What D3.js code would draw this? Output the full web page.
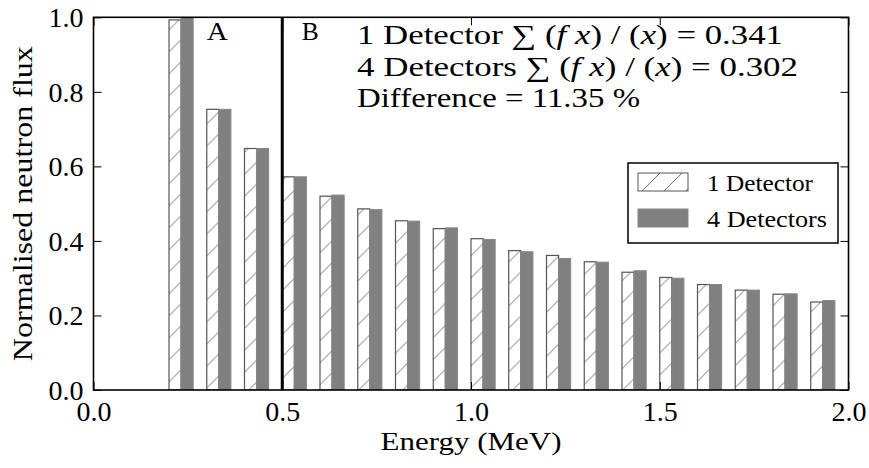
<!DOCTYPE html>
<html>
<head>
<meta charset="utf-8">
<script src="https://cdn.jsdelivr.net/npm/d3@7"></script>
<style>
  body { margin: 0; background: #fff; }
</style>
</head>
<body>
<svg id="chart"></svg>
<script>
// bin start energies (MeV)
const energies = [0.2, 0.3, 0.4, 0.5, 0.6, 0.7, 0.8, 0.9, 1.0, 1.1, 1.2, 1.3, 1.4, 1.5, 1.6, 1.7, 1.8, 1.9];
const oneDetector = [0.993, 0.753, 0.648, 0.572, 0.520, 0.486, 0.454, 0.433, 0.406, 0.374, 0.361, 0.344, 0.316, 0.302, 0.283, 0.268, 0.257, 0.236];
const fourDetectors = [1.0, 0.753, 0.648, 0.572, 0.523, 0.484, 0.453, 0.435, 0.404, 0.371, 0.353, 0.343, 0.320, 0.300, 0.283, 0.268, 0.258, 0.240];
const xTicks = [0.0, 0.5, 1.0, 1.5, 2.0];
const yTicks = [0.0, 0.2, 0.4, 0.6, 0.8, 1.0];
const seriesNames = ['1 Detector', '4 Detectors'];
const sumValues = ['0.341', '0.302'];
const difference = '11.35';
const barWidth = 0.032;
const splitAt = 0.5;

const width = 869, height = 468;
const margin = {top: 17.3, right: 20.5, bottom: 78, left: 93.5};
const w = width - margin.left - margin.right;
const h = height - margin.top - margin.bottom;
const serif = 'Liberation Serif';

const svg = d3.select('#chart').attr('width', width).attr('height', height)
    .attr('font-family', serif);

const defs = svg.append('defs');
defs.append('pattern')
    .attr('id', 'hatch')
    .attr('patternUnits', 'userSpaceOnUse')
    .attr('width', 22).attr('height', 22)
  .append('path')
    .attr('d', 'M-2,24 L24,-2 M-2,2 L2,-2 M20,24 L24,20')
    .attr('stroke', '#707070')
    .attr('stroke-width', 1);
defs.append('clipPath').attr('id', 'plotclip')
  .append('rect').attr('width', w).attr('height', h);

const chart = svg.append('g').attr('transform', `translate(${margin.left},${margin.top})`);

const x = d3.scaleLinear().domain([0, 2]).range([0, w]);
const y = d3.scaleLinear().domain([0, 1]).range([h, 0]);

const bars = chart.append('g').attr('clip-path', 'url(#plotclip)');

// 1 detector (hatched)
bars.selectAll('rect.one').data(energies).join('rect')
    .attr('class', 'one')
    .attr('x', d => x(d))
    .attr('y', (d, i) => y(oneDetector[i]))
    .attr('width', x(barWidth) - x(0))
    .attr('height', (d, i) => h - y(oneDetector[i]))
    .attr('fill', 'url(#hatch)')
    .attr('stroke', '#555')
    .attr('stroke-width', 1.2);

// 4 detectors (solid grey)
bars.selectAll('rect.four').data(energies).join('rect')
    .attr('class', 'four')
    .attr('x', d => x(d + barWidth))
    .attr('y', (d, i) => y(fourDetectors[i]))
    .attr('width', x(barWidth) - x(0))
    .attr('height', (d, i) => h - y(fourDetectors[i]))
    .attr('fill', '#808080')
    .attr('stroke', '#868686')
    .attr('stroke-width', 1);

// A / B split line
chart.append('line')
    .attr('x1', x(splitAt)).attr('x2', x(splitAt))
    .attr('y1', 0).attr('y2', h)
    .attr('stroke', '#000').attr('stroke-width', 3);

chart.append('text').attr('x', x(0.328)).attr('y', 23).attr('text-anchor', 'middle')
    .attr('font-family', serif).attr('font-size', 25)
    .attr('textLength', 21).attr('lengthAdjust', 'spacingAndGlyphs').text('A');
chart.append('text').attr('x', x(0.574)).attr('y', 23).attr('text-anchor', 'middle')
    .attr('font-family', serif).attr('font-size', 25)
    .attr('textLength', 17).attr('lengthAdjust', 'spacingAndGlyphs').text('B');

// axes with inward ticks on all sides
const fmt = d3.format('.1f');
const xAxisB = d3.axisBottom(x).tickValues(xTicks).tickFormat(fmt).tickSizeInner(-8).tickSizeOuter(0).tickPadding(12);
const xAxisT = d3.axisTop(x).tickValues(xTicks).tickFormat('').tickSizeInner(-8).tickSizeOuter(0);
const yAxisL = d3.axisLeft(y).tickValues(yTicks).tickFormat(fmt).tickSizeInner(-8).tickSizeOuter(0).tickPadding(10);
const yAxisR = d3.axisRight(y).tickValues(yTicks).tickFormat('').tickSizeInner(-8).tickSizeOuter(0);

const gxB = chart.append('g').attr('transform', `translate(0,${h})`).call(xAxisB);
const gxT = chart.append('g').call(xAxisT);
const gyL = chart.append('g').call(yAxisL);
const gyR = chart.append('g').attr('transform', `translate(${w},0)`).call(yAxisR);

[gxB, gxT, gyL, gyR].forEach(g => {
  g.attr('font-family', serif).attr('font-size', 27);
  g.select('.domain').remove();
  g.selectAll('.tick line').attr('stroke', '#000').attr('stroke-width', 1);
  g.selectAll('.tick text').attr('font-family', serif)
      .attr('font-size', 27).attr('fill', '#000')
      .attr('textLength', 35).attr('lengthAdjust', 'spacingAndGlyphs');
});
gxB.selectAll('.tick text').attr('dy', '0.71em');
gyL.selectAll('.tick text').attr('dy', '0.34em');

chart.append('rect')
    .attr('width', w).attr('height', h)
    .attr('fill', 'none').attr('stroke', '#000').attr('stroke-width', 1.6);

// axis labels
svg.append('text')
    .attr('x', margin.left + w / 2).attr('y', 450)
    .attr('text-anchor', 'middle')
    .attr('font-family', serif).attr('font-size', 26)
    .attr('textLength', 181).attr('lengthAdjust', 'spacingAndGlyphs')
    .text('Energy (MeV)');
svg.append('text')
    .attr('transform', `translate(32,${margin.top + h / 2}) rotate(-90)`)
    .attr('text-anchor', 'middle')
    .attr('font-family', serif).attr('font-size', 27)
    .attr('textLength', 315).attr('lengthAdjust', 'spacingAndGlyphs')
    .text('Normalised neutron flux');

// summary annotation
const lineWidths = [426, 441, 283];
const ann = svg.append('g').attr('transform', 'translate(357,0)');
seriesNames.forEach((name, i) => {
  const t = ann.append('text').attr('y', 44 + i * 32)
      .attr('font-family', serif).attr('font-size', 27)
      .attr('textLength', lineWidths[i]).attr('lengthAdjust', 'spacingAndGlyphs');
  t.append('tspan').text(name + ' \u2211 (');
  t.append('tspan').attr('font-style', 'italic').text('f x');
  t.append('tspan').text(') / (');
  t.append('tspan').attr('font-style', 'italic').text('x');
  t.append('tspan').text(') = ' + sumValues[i]);
});
ann.append('text').attr('y', 107)
    .attr('font-family', serif).attr('font-size', 27)
    .attr('textLength', lineWidths[2]).attr('lengthAdjust', 'spacingAndGlyphs')
    .text('Difference = ' + difference + ' %');

// legend
const legend = svg.append('g').attr('transform', 'translate(628,163)');
legend.append('rect').attr('width', 210).attr('height', 80)
    .attr('fill', '#fff').attr('stroke', '#000').attr('stroke-width', 1.5);
const legendWidths = [106, 120];
seriesNames.forEach((name, i) => {
  const row = legend.append('g').attr('transform', `translate(10,${10 + i * 36})`);
  row.append('rect').attr('width', 50).attr('height', 18)
      .attr('fill', i === 0 ? 'url(#hatch)' : '#808080')
      .attr('stroke', i === 0 ? '#555' : '#868686');
  row.append('text').attr('x', 69).attr('y', 18)
      .attr('font-family', serif).attr('font-size', 23)
      .attr('textLength', legendWidths[i]).attr('lengthAdjust', 'spacingAndGlyphs')
      .text(name);
});
</script>
</body>
</html>
